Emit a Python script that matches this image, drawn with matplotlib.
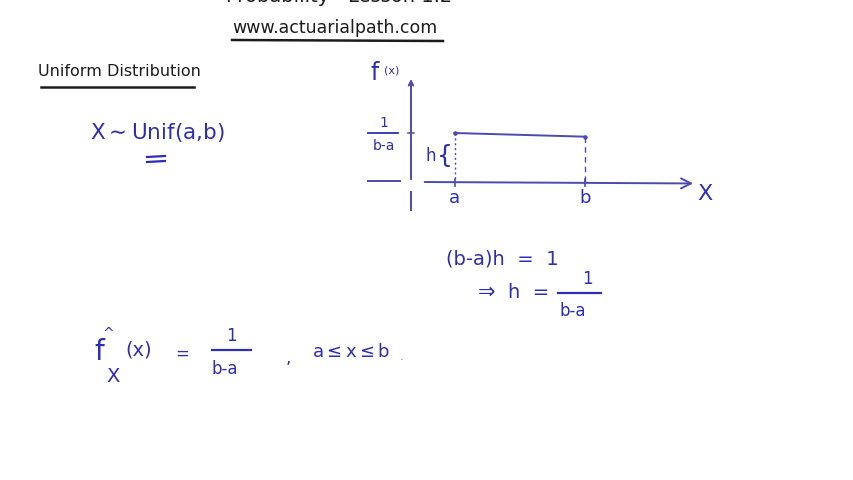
import matplotlib.pyplot as plt

# diagram values: support of the uniform and its density height
support = [1.0, 4.0]  # a, b
height = 1.0 / (support[1] - support[0])
support_labels = ["a", "b"]
axis_labels = ["X", "f"]

title = "Uniform Distribution"
url = "www.actuarialpath.com"
header = "Probability   Lesson 1.2"

INK = "#1c1c1c"
BLUE = "#2e2eb4"
LINE = "#4a4ab2"
FAMILY = ["DejaVu Sans"]

fig = plt.figure(figsize=(8.54, 4.8), dpi=100)
fig.patch.set_facecolor("white")

# full page in pixel coordinates, y going down
ax = fig.add_axes([0, 0, 1, 1])
ax.set_xlim(0, 854)
ax.set_ylim(480, 0)
ax.axis("off")


def txt(x, y, s, size, color=BLUE, **kw):
    ax.text(x, y, s, fontsize=size, color=color, family=FAMILY, va="center", ha="left", **kw)


# header (cut off at the top of the frame, as in the video) and url
txt(226, -4, header, 14, INK, clip_on=True)
txt(232, 28, url, 12.5, INK)
ax.plot([232, 443], [40, 41], color=INK, lw=1.8)

txt(38, 72, title, 11.5, INK)
ax.plot([41, 194], [87, 87], color=INK, lw=1.8)

# X ~ Unif(a,b)
txt(90, 133, r"X$\sim$Unif(a,b)", 15.5)
ax.plot([147, 165], [157, 156], color=BLUE, lw=1.6)
ax.plot([147, 165], [162, 161], color=BLUE, lw=1.6)

# (b-a)h = 1  =>  h = 1/(b-a)
txt(446, 259, "(b-a)h  =  1", 14)
txt(473, 291, r"$\Rightarrow$", 15)
txt(508, 293, "h  =", 14)
txt(582, 279, "1", 12)
ax.plot([558, 601], [293, 293], color=BLUE, lw=1.6)
txt(560, 311, "b-a", 12)

# f_X(x) = 1/(b-a) , a <= x <= b
txt(94, 352, "f", 20)
txt(103, 334, "^", 10)
txt(106, 377, "X", 14)
txt(125, 350, "(x)", 14)
txt(175, 354, "=", 12)
txt(226, 336, "1", 12)
ax.plot([212, 251], [350, 350], color=BLUE, lw=1.6)
txt(212, 369, "b-a", 12)
txt(286, 358, ",", 12)
txt(312, 352, r"a$\leq$x$\leq$b", 13)
txt(400, 356, ".", 9, "#8888cc")

# ----- density diagram in its own data coordinates -----
x0_px, y0_px = 411.0, 182.0
sx, sy = 43.5, 147.0
left_px, right_px, top_px, bot_px = 360, 720, 60, 215
dax = fig.add_axes([left_px / 854, 1 - bot_px / 480,
                    (right_px - left_px) / 854, (bot_px - top_px) / 480])
dax.set_xlim((left_px - x0_px) / sx, (right_px - x0_px) / sx)
dax.set_ylim((y0_px - bot_px) / sy, (y0_px - top_px) / sy)
dax.axis("off")
dax.patch.set_alpha(0)

a, b = support
# axes
dax.annotate("", xy=(6.55, -0.01), xytext=(0.25, 0.0),
             arrowprops=dict(arrowstyle="->", color=LINE, lw=1.4, mutation_scale=18))
dax.plot([-1.0, -0.25], [0.01, 0.01], color=LINE, lw=1.4)
dax.annotate("", xy=(0.0, 0.72), xytext=(0.0, 0.0),
             arrowprops=dict(arrowstyle="->", color=LINE, lw=1.4, mutation_scale=8))
dax.plot([0.0, 0.0], [-0.07, -0.19], color=LINE, lw=1.4)
dax.plot([-0.07, 0.07], [height, height], color=LINE, lw=1.1)

# density top and the edges
dax.plot([a, b], [height, height - 0.025], color=LINE, lw=1.4)
dax.plot([a, b], [height, height - 0.025], "o", color=LINE, ms=2.2)
dax.plot([a, a], [height, 0.0], color=LINE, lw=1.0, ls=(0, (1.5, 2)))
dax.plot([b, b], [height - 0.025, 0.0], color=LINE, lw=1.0, ls=(0, (4, 3)))
dax.plot([a, a], [0.02, -0.03], color=LINE, lw=1.2)
dax.plot([b, b], [0.02, -0.03], color=LINE, lw=1.2)

for xv, lab in zip(support, support_labels):
    dax.text(xv, -0.11, lab, fontsize=13, color=BLUE, family=FAMILY, ha="center", va="center")
dax.text(6.75, -0.08, axis_labels[0], fontsize=16, color=BLUE, family=FAMILY, ha="center", va="center")
dax.text(-0.83, 0.74, axis_labels[1], fontsize=17, color=BLUE, family=FAMILY, ha="center", va="center")
dax.text(-0.45, 0.76, "(x)", fontsize=8, color=BLUE, family=FAMILY, ha="center", va="center")

# 1/(b-a) tick label and the brace for h
dax.text(-0.63, height + 0.07, "1", fontsize=10, color=BLUE, family=FAMILY, ha="center", va="center")
dax.plot([-0.98, -0.3], [height, height], color=BLUE, lw=1.3)
dax.text(-0.63, height - 0.09, "b-a", fontsize=10, color=BLUE, family=FAMILY, ha="center", va="center")
dax.text(0.45, height / 2 + 0.01, "h", fontsize=12, color=BLUE, family=FAMILY, ha="center", va="center")
dax.text(0.97, height / 2 + 0.01, "{", fontsize=18, color=BLUE, family=FAMILY, ha="right", va="center")

fig.savefig("out.png", dpi=100, facecolor="white")
